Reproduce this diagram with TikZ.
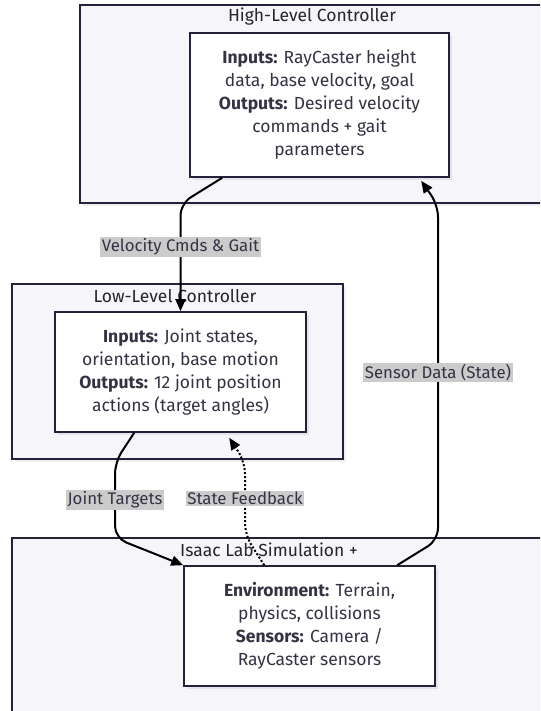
\documentclass[tikz,border=0pt]{standalone}
\usepackage{fontspec}
\setmainfont{Fira Sans}
\usetikzlibrary{arrows.meta,calc,shadows}

\definecolor{clusterfill}{HTML}{F5F5FA}
\definecolor{edgecol}{HTML}{22223A}
\definecolor{labelfill}{HTML}{CBCBCB}
\definecolor{txt}{HTML}{333344}

\begin{document}
\begin{tikzpicture}[x=1pt, y=-1pt, font=\fontsize{17.5}{23}\selectfont,
    cluster/.style = {draw=edgecol, line width=1.4pt, fill=clusterfill, inner sep=0pt,
        drop shadow={shadow xshift=3pt, shadow yshift=-3pt, fill=black, opacity=0.06}},
    caption/.style = {text=black!85, inner sep=1pt},
    main/.style = {draw=edgecol, line width=1.6pt, fill=white, align=center, inner sep=0pt, text=txt,
        drop shadow={shadow xshift=3pt, shadow yshift=-3pt, fill=black, opacity=0.07}},
    flow/.style = {draw=black, line width=2pt, rounded corners=12pt, -{Triangle[length=12pt,width=10pt]}},
    elabel/.style = {fill=labelfill, text=txt, inner sep=1.5pt, sharp corners,
        font=\fontsize{16.8}{20}\selectfont}]
    \useasboundingbox (0,0) rectangle (540,711);
    \clip (0,0) rectangle (540,711);

    % groups
    \node[cluster, minimum width=464pt, minimum height=198pt] (hlc) at (312,104) {};
    \node[cluster, minimum width=331pt, minimum height=175pt] (llc) at (177.5,371.5) {};
    \node[cluster, minimum width=548pt, minimum height=200pt] (simc) at (286,638) {};

    \node[caption] (hlcap) at (312,17) {High-Level Controller};
    \node[caption] (llcap) at (175,296) {Low-Level Controller};
    \node[caption] (simcap) at (269,550) {Isaac Lab Simulation +};

    % blocks
    \node[main, minimum width=259pt, minimum height=144pt] (hl) at (319.5,105)
        {\textbf{Inputs:} RayCaster height\\ data, base velocity, goal\\ \textbf{Outputs:} Desired velocity\\ commands + gait\\ parameters};
    \node[main, minimum width=251pt, minimum height=120pt] (ll) at (180.5,372)
        {\textbf{Inputs:} Joint states,\\ orientation, base motion\\ \textbf{Outputs:} 12 joint position\\ actions (target angles)};
    \node[main, minimum width=251pt, minimum height=120pt] (sim) at (309.5,626)
        {\textbf{Environment:} Terrain,\\ physics, collisions\\ \textbf{Sensors:} Camera /\\ RayCaster sensors};

    % links
    \draw[flow] ($(hl.south west)+(33,0)$) -- (ll.north |- hlc.south)
        -- node[elabel, pos=0.4] {Velocity Cmds \& Gait} (ll.north);
    \draw[flow] ($(ll.south west)+(80,0)$) -- (115,462)
        -- node[elabel] {Joint Targets} (115,538) -- (sim.north west);
    \draw[flow, dotted] ($(sim.north west)+(81,0)$) -- (245,535)
        -- node[elabel] {State Feedback} (245,462) -- ($(ll.south west)+(175,5)$);
    \draw[flow] ($(sim.north west)+(214,0)$) -- (438,540)
        -- node[elabel] {Sensor Data (State)} (438,205) -- ($(hl.south west)+(232,3)$);
\end{tikzpicture}
\end{document}
